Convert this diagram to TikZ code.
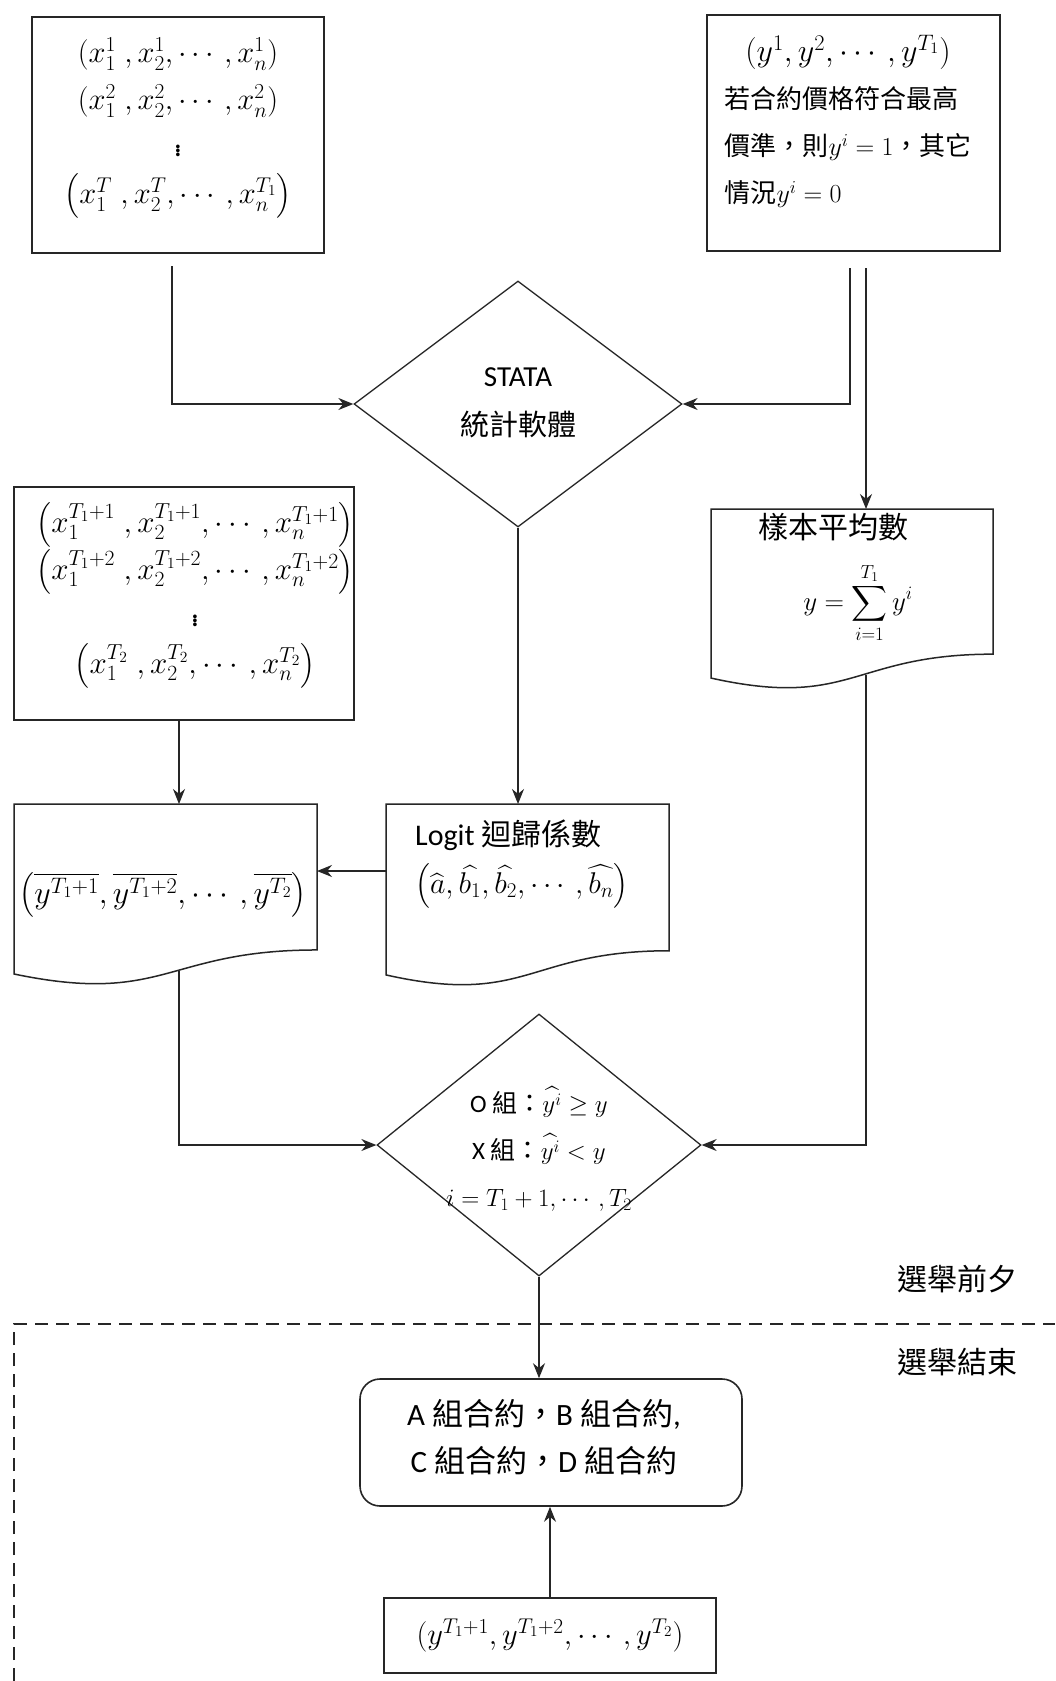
\RequirePackage{fix-cm}
\documentclass[tikz,border=0pt]{standalone}
\usepackage{amsmath}
\usepackage{fontspec}
\setmainfont{Carlito}
\newfontfamily\cjk{Noto Sans CJK TC}
\usetikzlibrary{shapes.geometric,arrows.meta,calc}
\newcommand\docpath[1]{%
  \draw[docline] let \p1=(#1.north west), \p2=(#1.south east) in
    (\x1,\y1) -- (\x2,\y1) -- (\x2,{\y1+0.802*(\y2-\y1)})
    .. controls ({0.5*(\x1+\x2)},{\y1+0.802*(\y2-\y1)}) and ({0.5*(\x1+\x2)},{\y1+1.1075*(\y2-\y1)}) ..
    (\x1,{\y1+0.934*(\y2-\y1)}) -- cycle;}
\begin{document}
\begin{tikzpicture}[x=1pt,y=-1pt,
  boxnode/.style={draw=black!85, line width=1.6pt, inner sep=0pt, fill=white},
  docnode/.style={inner sep=0pt, outer sep=0pt},
  docline/.style={draw=black!85, line width=1.5pt},
  dia/.style={shape=diamond, draw=black!85, line width=1.3pt, inner sep=0pt},
  txt/.style={inner sep=0pt, align=center},
  arr/.style={draw=black!85, line width=1.3pt, -{Stealth[length=15pt,width=12pt]}}]
\useasboundingbox (0,0) rectangle (1055,1681);
\fill[white] (0,0) rectangle (1055,1681);

% boxes
\node[boxnode, minimum width=292pt, minimum height=236pt] (b1) at (178,135) {};
\node[boxnode, minimum width=293pt, minimum height=236pt] (b2) at (853.5,133) {};
\node[dia, minimum width=328pt, minimum height=246pt] (d1) at (518,404) {};
\node[boxnode, minimum width=340pt, minimum height=233pt] (b3) at (184,603.5) {};
\node[docnode, minimum width=282pt, minimum height=181pt] (sdoc) at (852,599.5) {};
\docpath{sdoc}
\node[docnode, minimum width=283pt, minimum height=183pt] (ldoc) at (527.5,895.5) {};
\docpath{ldoc}
\node[docnode, minimum width=303pt, minimum height=182pt] (ydoc) at (165.5,895) {};
\docpath{ydoc}
\node[dia, minimum width=324pt, minimum height=262pt] (d2) at (539,1145) {};
\node[boxnode, rounded corners=20pt, minimum width=382pt, minimum height=127pt] (rbox) at (551,1442.5) {};
\node[boxnode, minimum width=332pt, minimum height=75pt, font=\fontsize{30.5}{40}\selectfont] (bbox) at (550,1635.5) {$(y^{T_1+1},y^{T_1+2},\cdots,y^{T_2})$};

% texts
\node[txt, font=\fontsize{30.5}{47}\selectfont] (t1) at (178,128)
  {$(x_1^1\;,x_2^1,\cdots,x_n^1)$\\ $(x_1^2\;,x_2^2,\cdots,x_n^2)$\\ $\vdots$\\ $\bigl(x_1^T\;,x_2^T,\cdots,x_n^{T_1}\bigr)$};
\node[txt, font=\fontsize{26}{47}\selectfont] (t2) at (848,123)
  {\begin{tabular}{@{}l@{}}\multicolumn{1}{@{}c@{}}{\fontsize{32}{47}\selectfont$(y^1,y^2,\cdots,y^{T_1})$}\\
   {\cjk 若合約價格符合最高}\\
   {\cjk 價準，則}$y^i=1${\cjk ，其它}\\
   {\cjk 情況}$y^i=0$\end{tabular}};
\node[txt, font=\fontsize{29}{49}\selectfont] (t3) at (518,403) {STATA\\{\cjk 統計軟體}};
\node[txt, font=\fontsize{31}{47}\selectfont] (t4) at (195,595)
  {$\bigl(x_1^{T_1+1}\;,x_2^{T_1+1},\cdots,x_n^{T_1+1}\bigr)$\\ $\bigl(x_1^{T_1+2}\;,x_2^{T_1+2},\cdots,x_n^{T_1+2}\bigr)$\\ $\vdots$\\ $\bigl(x_1^{T_2}\;,x_2^{T_2},\cdots,x_n^{T_2}\bigr)$};
\node[txt, font=\fontsize{30}{40}\selectfont] (t5a) at (833,527) {\cjk 樣本平均數};
\node[txt, font=\fontsize{27}{40}\selectfont] (t5b) at (858,603) {$y=\displaystyle\sum_{i=1}^{T_1}y^i$};
\node[txt, align=left, anchor=west, font=\fontsize{30}{48}\selectfont] (t6) at (415,864)
  {Logit {\cjk 迴歸係數}\\ $\bigl(\widehat{a},\widehat{b_1},\widehat{b_2},\cdots,\widehat{b_n}\bigr)$};
\node[txt, font=\fontsize{32}{40}\selectfont] (t7) at (163,895)
  {$\bigl(\overline{y^{T_1+1}},\overline{y^{T_1+2}},\cdots,\overline{y^{T_2}}\bigr)$};
\node[txt, font=\fontsize{25}{47}\selectfont] (t8) at (539,1149)
  {O {\cjk 組：}$\widehat{y^i}\geq y$\\ X {\cjk 組：}$\widehat{y^i}<y$\\ $i=T_1+1,\cdots,T_2$};
\node[txt, font=\fontsize{31}{47}\selectfont] (t9) at (544,1437)
  {A {\cjk 組合約，}B {\cjk 組合約},\\ C {\cjk 組合約，}D {\cjk 組合約}};
\node[txt, font=\fontsize{30}{40}\selectfont] (l1) at (957,1279) {\cjk 選舉前夕};
\node[txt, font=\fontsize{30}{40}\selectfont] (l2) at (957,1362) {\cjk 選舉結束};

% dashed separator
\draw[draw=black!85, line width=1.5pt, dash pattern=on 13pt off 8pt] (14,1681) -- (14,1324) -- (1055,1324);

% connector points
\coordinate (b1s) at (172,266);
\coordinate (b2a) at (850,268);
\coordinate (b2b) at (866,268);
\coordinate (ycol) at (179,0);
\coordinate (ydb) at (179,971);
\coordinate (sdb) at (866,675);
\coordinate (lw) at ($(ldoc.north west)+(0,67)$);

% connectors
\draw[arr] (b1s) |- (d1.west);
\draw[arr] (b2a) |- (d1.east);
\draw[arr] (b2b) -- (b2b |- sdoc.north);
\draw[arr] (d1.south) -- (d1.south |- ldoc.north);
\draw[arr] (b3.south -| ycol) -- (ydoc.north -| ycol);
\draw[arr] (lw) -- (lw -| ydoc.east);
\draw[arr] (ydb) |- (d2.west);
\draw[arr] (sdb) |- (d2.east);
\draw[arr] (d2.south) -- (d2.south |- rbox.north);
\draw[arr] (bbox.north) -- (bbox.north |- rbox.south);
\end{tikzpicture}
\end{document}
